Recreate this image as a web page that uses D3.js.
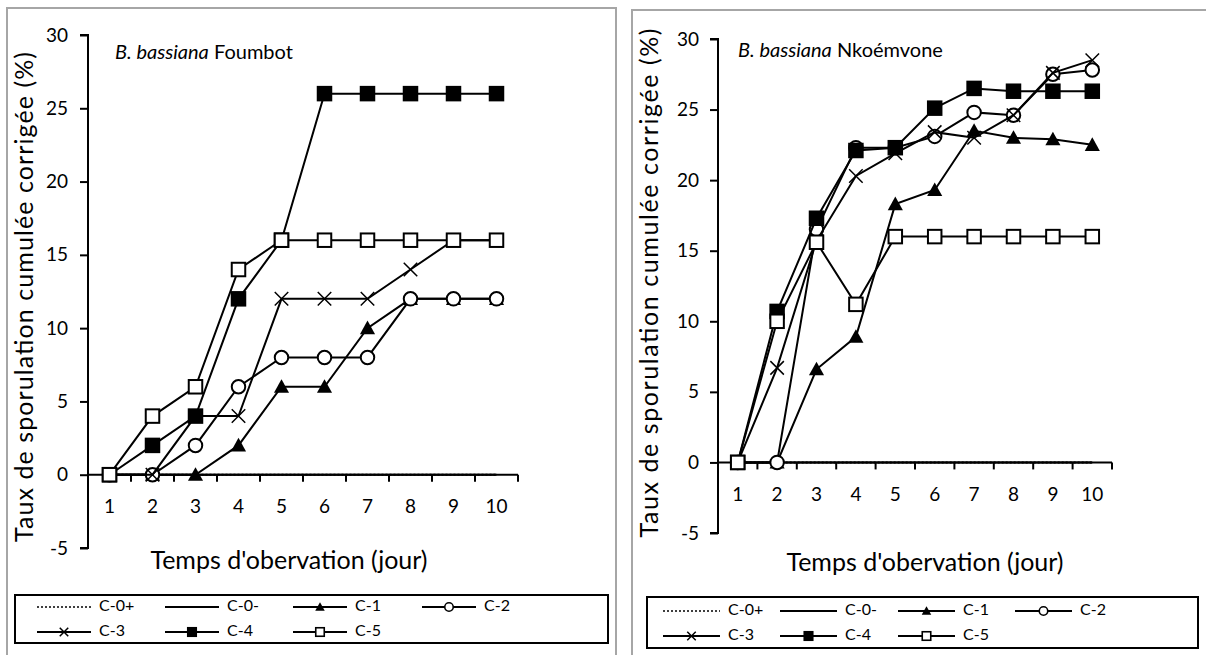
<!DOCTYPE html>
<html><head><meta charset="utf-8">
<script src="https://cdn.jsdelivr.net/npm/d3@7"></script>
<style>
html,body{margin:0;padding:0;background:#fff;}
svg{display:block;font-family:Lato,"Open Sans",sans-serif;}
</style></head>
<body>
<svg id="chart" width="1206" height="655"></svg>
<script>
// ---------- data ----------
const days = ["1","2","3","4","5","6","7","8","9","10"];
const yTicks = [-5, 0, 5, 10, 15, 20, 25, 30];
const seriesNames = ["C-0+", "C-0-", "C-1", "C-2", "C-3", "C-4", "C-5"];

// B. bassiana Foumbot
const foumbotC0plus  = [0,0,0,0,0,0,0,0,0,0];
const foumbotC0minus = [0,0,0,0,0,0,0,0,0,0];
const foumbotC1 = [0,0,0,2,6,6,10,12,12,12];
const foumbotC2 = [0,0,2,6,8,8,8,12,12,12];
const foumbotC3 = [0,0,4,4,12,12,12,14,16,16];
const foumbotC4 = [0,2,4,12,16,26,26,26,26,26];
const foumbotC5 = [0,4,6,14,16,16,16,16,16,16];

// B. bassiana Nkoémvone
const nkoemC0plus  = [0,0,0,0,0,0,0,0,0,0];
const nkoemC0minus = [0,0,0,0,0,0,0,0,0,0];
const nkoemC1 = [0,0,6.6,8.9,18.3,19.3,23.5,23.0,22.9,22.5];
const nkoemC2 = [0,0,16.5,22.3,22.3,23.1,24.8,24.6,27.5,27.8];
const nkoemC3 = [0,6.7,15.7,20.3,21.9,23.4,23.0,24.6,27.6,28.5];
const nkoemC4 = [0,10.7,17.3,22.1,22.3,25.1,26.5,26.3,26.3,26.3];
const nkoemC5 = [0,10.0,15.6,11.2,16.0,16.0,16.0,16.0,16.0,16.0];

// ---------- styles ----------
const markerOf = {"C-0+":"none","C-0-":"none","C-1":"triangle","C-2":"circle","C-3":"x","C-4":"square","C-5":"squareOpen"};
const dashOf = {"C-0+":"2,2"};

const svg = d3.select("#chart");

// panel frames
svg.append("rect").attr("x",7).attr("y",8).attr("width",609).attr("height",660)
  .attr("fill","none").attr("stroke","#a6a6a6").attr("stroke-width",2);
svg.append("rect").attr("x",632).attr("y",10).attr("width",600).attr("height",660)
  .attr("fill","none").attr("stroke","#a6a6a6").attr("stroke-width",2);

function drawMarker(g, type, size, sw) {
  const h = size/2;
  if (type === "square" || type === "squareOpen") {
    g.append("rect").attr("x",-h).attr("y",-h).attr("width",size).attr("height",size)
      .attr("fill", type === "square" ? "#000" : "#fff").attr("stroke","#000").attr("stroke-width",sw);
  } else if (type === "circle") {
    g.append("circle").attr("r",h).attr("fill","#fff").attr("stroke","#000").attr("stroke-width",sw);
  } else if (type === "triangle") {
    const t = h*1.12;
    g.append("path").attr("d",`M0,${-t}L${t},${t*0.8}L${-t},${t*0.8}Z`).attr("fill","#000");
  } else if (type === "x") {
    g.append("path").attr("d",`M${-h},${-h}L${h},${h}M${-h},${h}L${h},${-h}`)
      .attr("stroke","#000").attr("stroke-width",1.5).attr("fill","none");
  }
}

function drawPanel(cfg) {
  const x = d3.scaleBand().domain(days).range([cfg.x0, cfg.x1]);
  const y = d3.scaleLinear().domain([-5, 30]).range([cfg.yBottom, cfg.yTop]);
  const g = svg.append("g");

  // y axis
  const yAxis = d3.axisLeft(y).tickValues(yTicks).tickSize(8).tickPadding(cfg.yLabelPad).tickFormat(d => String(d));
  const ya = g.append("g").attr("transform",`translate(${cfg.x0},0)`).call(yAxis);
  ya.select(".domain").attr("stroke","#000").attr("stroke-width",2).attr("d",`M-8,${y(-5)}H0V${y(30)}H-8`);
  ya.selectAll(".tick line").attr("stroke","#000").attr("stroke-width",2);
  ya.selectAll(".tick text").attr("font-size",19).attr("fill","#000").attr("font-family","Lato, sans-serif");

  // x axis at y=0
  const xAxis = d3.axisBottom(x).tickSize(0).tickPadding(cfg.xLabelPad);
  const xa = g.append("g").attr("transform",`translate(0,${y(0)})`).call(xAxis);
  xa.select(".domain").attr("stroke","#000").attr("stroke-width",2).attr("d",`M${cfg.x0},0H${cfg.x1}`);
  xa.selectAll(".tick text").attr("font-size",19).attr("fill","#000").attr("font-family","Lato, sans-serif");
  const bounds = days.map(d => x(d)).slice(1).concat([cfg.x1]);
  xa.selectAll("line.bt").data(bounds).enter().append("line").attr("class","bt")
    .attr("x1",d=>d).attr("x2",d=>d).attr("y1",0).attr("y2",7).attr("stroke","#000").attr("stroke-width",2);

  // series
  const line = d3.line().x((d,i)=>x(days[i]) + x.bandwidth()/2).y(d=>y(d));
  cfg.series.forEach((vals, si) => {
    const name = seriesNames[si];
    g.append("path").datum(vals).attr("d", line).attr("fill","none").attr("stroke","#000")
      .attr("stroke-width",2).attr("stroke-dasharray", dashOf[name] || null);
    if (markerOf[name] !== "none") {
      vals.forEach((v,i) => {
        const mg = g.append("g").attr("transform",`translate(${x(days[i]) + x.bandwidth()/2},${y(v)})`);
        drawMarker(mg, markerOf[name], 13.5, 2);
      });
    }
  });

  // title
  const t = g.append("text").attr("x",cfg.titleX).attr("y",cfg.titleY).attr("font-size",20).attr("fill","#000");
  t.append("tspan").attr("font-style","italic").text("B. bassiana");
  t.append("tspan").text(" " + cfg.site);

  // axis titles
  g.append("text").attr("transform",`translate(${cfg.yTitleX},${cfg.yTitleY}) rotate(-90)`)
    .attr("text-anchor","middle").attr("dominant-baseline","middle").attr("font-size",25).attr("fill","#000")
    .attr("textLength", cfg.yTitleLen).attr("lengthAdjust","spacing")
    .text("Taux de sporulation cumulée corrigée (%)");
  g.append("text").attr("x",cfg.xTitleX).attr("y",cfg.xTitleY).attr("text-anchor","middle")
    .attr("dominant-baseline","middle").attr("font-size",25).attr("fill","#000")
    .text("Temps d'obervation (jour)");

  // legend
  const L = cfg.legend;
  g.append("rect").attr("x",L.x).attr("y",L.y).attr("width",L.w).attr("height",L.h)
    .attr("fill","#fff").attr("stroke","#000").attr("stroke-width",2);
  seriesNames.forEach((name, i) => {
    const row = Math.floor(i/4), col = i%4;
    const lx = L.cols[col], ly = L.rows[row];
    const lg = g.append("g").attr("transform",`translate(${lx},${ly})`);
    lg.append("line").attr("x1",0).attr("x2",L.lineLen).attr("y1",0).attr("y2",0)
      .attr("stroke","#000").attr("stroke-width", name === "C-0+" ? 1.5 : 2)
      .attr("stroke-dasharray", dashOf[name] || null);
    if (markerOf[name] !== "none") {
      drawMarker(lg.append("g").attr("transform",`translate(${L.lineLen/2},0)`), markerOf[name], 8.5, 1.6);
    }
    lg.append("text").attr("x",L.lineLen+8).attr("y",0).attr("dominant-baseline","middle")
      .attr("font-size",16).attr("fill","#000").text(name);
  });
}

drawPanel({
  site: "Foumbot",
  series: [foumbotC0plus, foumbotC0minus, foumbotC1, foumbotC2, foumbotC3, foumbotC4, foumbotC5],
  x0: 88, x1: 518, yTop: 35, yBottom: 548, xLabelPad: 25, yLabelPad: 12,
  titleX: 115, titleY: 59,
  yTitleX: 27, yTitleY: 297, yTitleLen: 490,
  xTitleX: 289, xTitleY: 563,
  legend: {x: 15, y: 595, w: 593, h: 48, rows: [607, 632], cols: [37, 165, 293, 422], lineLen: 54}
});

drawPanel({
  site: "Nkoémvone",
  series: [nkoemC0plus, nkoemC0minus, nkoemC1, nkoemC2, nkoemC3, nkoemC4, nkoemC5],
  x0: 718, x1: 1112, yTop: 39, yBottom: 533, xLabelPad: 25, yLabelPad: 11,
  titleX: 738, titleY: 57,
  yTitleX: 652, yTitleY: 283, yTitleLen: 509,
  xTitleX: 925, xTitleY: 565,
  legend: {x: 647, y: 597, w: 551, h: 51, rows: [611, 636], cols: [663, 780, 898, 1015], lineLen: 57}
});
</script>
</body></html>
